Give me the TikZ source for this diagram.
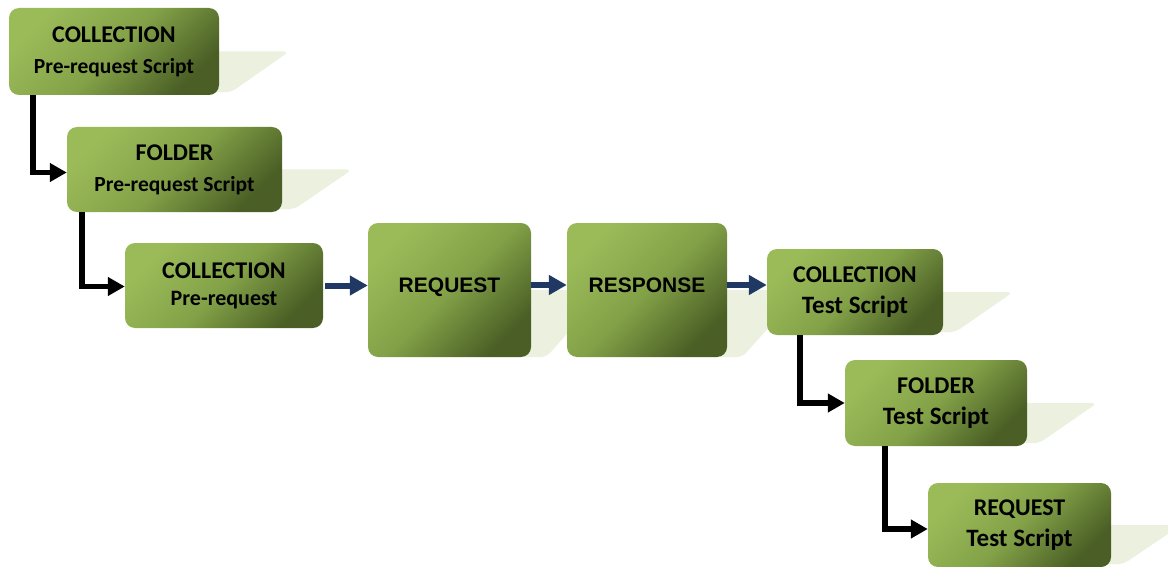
\documentclass[tikz,border=0pt]{standalone}
\usepackage{fontspec}
\setmainfont{Carlito}
\newfontfamily\arialb{Liberation Sans}
\usetikzlibrary{arrows.meta,backgrounds}
\definecolor{gl}{HTML}{9BBB59}
\definecolor{gm}{HTML}{83A248}
\definecolor{gd}{HTML}{4A5E25}
\definecolor{shc}{HTML}{EBF1DE}
\definecolor{navy}{HTML}{1F3864}
\newcommand{\lineb}[2]{{\fontsize{#1}{31}\selectfont #2}}
\tikzset{
  box/.style={rounded corners=10pt, top color=gl, bottom color=gd, middle color=gm,
    shading angle=45, align=center, inner sep=0pt, text=black,
    font=\bfseries\fontsize{24}{31}\selectfont},
  smallbox/.style={box, font=\bfseries\fontsize{24}{27}\selectfont},
  bigbox/.style={box, font=\arialb\bfseries\fontsize{21}{25}\selectfont, text depth=10pt},
  shadowpoly/.style={fill=shc, rounded corners=6pt},
  blk/.style={line width=5.5pt, black, line join=miter, -{Triangle[length=17pt,width=18pt]}},
  nav/.style={line width=6pt, navy, -{Triangle[length=18pt,width=19pt]}}
}
\begin{document}
\begin{tikzpicture}[x=1pt,y=-1pt]
\useasboundingbox (0,0) rectangle (1168,567);
\node[box, minimum width=210pt, minimum height=87pt] (b1) at (114,51.5) {COLLECTION\\\lineb{21.5}{Pre-request Script}};
\node[box, minimum width=215pt, minimum height=85pt] (b2) at (174.5,169.5) {FOLDER\\\lineb{21.5}{Pre-request Script}};
\node[smallbox, minimum width=198pt, minimum height=85pt] (b3) at (224,285.5) {COLLECTION\\\lineb{22}{Pre-request}};
\node[bigbox, minimum width=163pt, minimum height=134pt] (b4) at (449.5,290) {REQUEST};
\node[bigbox, minimum width=160pt, minimum height=134pt] (b5) at (647,290) {RESPONSE};
\node[box, minimum width=176pt, minimum height=86pt] (b6) at (855,292) {COLLECTION\\\lineb{25}{Test Script}};
\node[box, minimum width=182pt, minimum height=86pt] (b7) at (936,403) {FOLDER\\\lineb{25}{Test Script}};
\node[box, minimum width=183pt, minimum height=84pt] (b8) at (1019.5,525) {REQUEST\\\lineb{25}{Test Script}};
\begin{scope}[on background layer]
  \foreach \b in {b1,b2,b6,b7,b8}{
    \fill[shadowpoly] ([xshift=-10pt]\b.east) -- ([xshift=70pt]\b.east) -- ([xshift=12pt,yshift=3pt]\b.south east) -- ([xshift=-10pt,yshift=3pt]\b.south east) -- cycle;
  }
  \foreach \b in {b4,b5}{
    \fill[shadowpoly] ([xshift=-10pt]\b.east) -- ([xshift=75pt]\b.east) -- ([xshift=15pt]\b.south east) -- ([xshift=-10pt]\b.south east) -- cycle;
  }
\end{scope}
\draw[blk] ([xshift=24pt]b1.south west) |- ([yshift=-3pt]b2.west);
\draw[blk] ([xshift=15pt]b2.south west) |- ([yshift=-1pt]b3.west);
\draw[blk] ([xshift=33pt]b6.south west) |- (b7.west);
\draw[blk] ([xshift=40pt]b7.south west) |- ([yshift=-4pt]b8.west);
\draw[nav, shorten <=2pt] (b3.east) -- (b3.east -| b4.west);
\draw[nav] ([yshift=5pt]b4.east) -- ([yshift=5pt]b5.west);
\draw[nav] ([yshift=5pt]b5.east) -- ([yshift=5pt]b5.east -| b6.west);
\end{tikzpicture}
\end{document}
